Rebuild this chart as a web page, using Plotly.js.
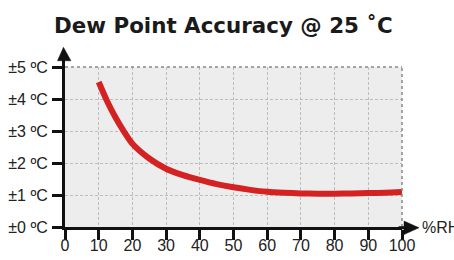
<!DOCTYPE html>
<html>
<head>
<meta charset="utf-8">
<script src="https://cdn.plot.ly/plotly-3.0.1.min.js"></script>
<style>html,body{margin:0;padding:0;background:#fff;}#chart{width:454px;height:260px;}</style>
</head>
<body>
<div id="chart"></div>
<script>
// Data
const rh = [10, 12.5, 15, 17.5, 20, 25, 30, 35, 40, 45, 50, 55, 60, 65, 70, 75, 80, 85, 90, 95, 100];
const accuracy = [4.53, 3.93, 3.42, 2.98, 2.6, 2.14, 1.82, 1.62, 1.47, 1.34, 1.24, 1.16, 1.10, 1.07, 1.05, 1.04, 1.04, 1.05, 1.06, 1.07, 1.09];
const xTickVals = [0, 10, 20, 30, 40, 50, 60, 70, 80, 90, 100];
const yTickVals = [0, 1, 2, 3, 4, 5];
const yTickLabels = ['±0 ºC', '±1 ºC', '±2 ºC', '±3 ºC', '±4 ºC', '±5 ºC'];
const titleText = 'Dew Point Accuracy @ 25 ˚C';
const xUnitLabel = '%RH';

const trace = {
  x: rh, y: accuracy, type: 'scatter', mode: 'lines',
  line: {color: '#d42222', width: 6, shape: 'spline', smoothing: 0.8},
  hoverinfo: 'skip'
};

const tickFont = {family: 'Liberation Sans, Arial, sans-serif', size: 16, color: '#222'};

const layout = {
  width: 454, height: 260,
  margin: {l: 65, r: 52, t: 67, b: 33, pad: 0},
  paper_bgcolor: '#fff',
  plot_bgcolor: '#ededed',
  showlegend: false,
  title: {
    text: titleText,
    font: {family: 'DejaVu Sans, sans-serif', size: 21.4, color: '#1a1a1a', weight: 'bold'},
    x: 0.47, xref: 'paper', xanchor: 'center',
    y: 0.9, yref: 'container', yanchor: 'middle'
  },
  xaxis: {
    range: [0, 100], tickvals: xTickVals, ticktext: xTickVals.map(String),
    showgrid: true, gridcolor: '#bdbdbd', griddash: '3px,2px', gridwidth: 1,
    zeroline: false, showline: true, linecolor: '#111', linewidth: 3,
    ticks: 'outside', ticklen: 10, tickwidth: 3, tickcolor: '#111',
    ticklabelstandoff: -8,
    tickfont: tickFont, fixedrange: true
  },
  yaxis: {
    range: [0, 5], tickvals: yTickVals, ticktext: yTickLabels,
    showgrid: true, gridcolor: '#bdbdbd', griddash: '3px,2px', gridwidth: 1,
    zeroline: false, showline: true, linecolor: '#111', linewidth: 3,
    ticks: 'outside', ticklen: 10, tickwidth: 3, tickcolor: '#111',
    ticklabelstandoff: 1,
    tickfont: tickFont, fixedrange: true
  },
  shapes: [
    {type: 'line', xref: 'paper', yref: 'paper', x0: 0, x1: 1, y0: 1, y1: 1,
     line: {color: '#888', width: 1.5, dash: 'dot'}, layer: 'above'},
    {type: 'line', xref: 'paper', yref: 'paper', x0: 1, x1: 1, y0: 0, y1: 1,
     line: {color: '#888', width: 1.5, dash: 'dot'}, layer: 'above'},
    {type: 'line', xref: 'paper', yref: 'paper', x0: -0.0045, x1: -0.0045, y0: 0.99, y1: 1.05,
     line: {color: '#111', width: 3}},
    {type: 'path', xref: 'paper', yref: 'paper',
     path: 'M -0.0223 1.039 L 0.0176 1.039 L -0.0045 1.123 Z',
     fillcolor: '#111', line: {color: '#111', width: 0.5}},
    {type: 'line', xref: 'paper', yref: 'paper', x0: 0.99, x1: 1.01, y0: -0.0045, y1: -0.0045,
     line: {color: '#111', width: 3}},
    {type: 'path', xref: 'paper', yref: 'paper',
     path: 'M 1.006 0.037 L 1.006 -0.047 L 1.0504 -0.0045 Z',
     fillcolor: '#111', line: {color: '#111', width: 0.5}}
  ],
  annotations: [
    {text: xUnitLabel, xref: 'paper', yref: 'paper', x: 1.052, y: 0.0,
     xanchor: 'left', yanchor: 'middle', showarrow: false, font: tickFont}
  ]
};

Plotly.newPlot('chart', [trace], layout, {staticPlot: true, displayModeBar: false});
</script>
</body>
</html>
